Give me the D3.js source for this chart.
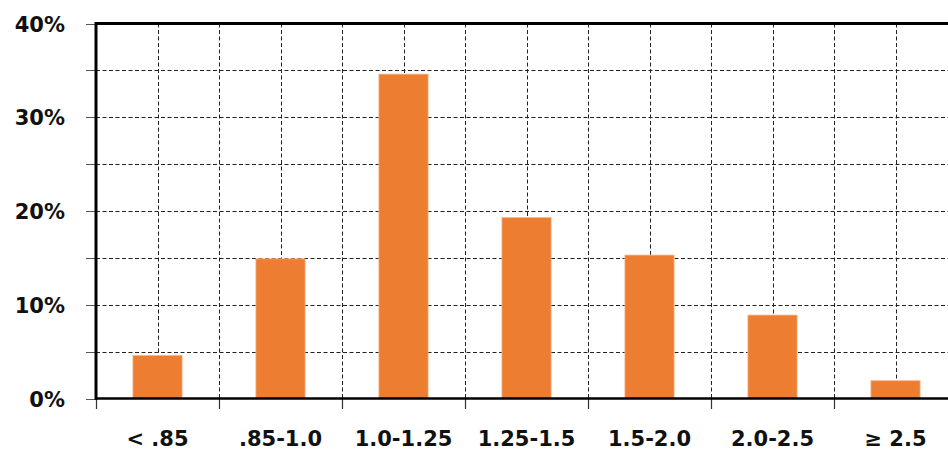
<!DOCTYPE html>
<html><head><meta charset="utf-8">
<script src="https://cdn.jsdelivr.net/npm/d3@7"></script>
<style>
html,body{margin:0;padding:0;background:#fff;overflow:hidden;}
text{font-family:"DejaVu Sans",sans-serif;font-weight:bold;fill:#111;}
</style></head>
<body><svg id="c" width="948" height="451"></svg>
<script>
const categories = ["< .85", ".85-1.0", "1.0-1.25", "1.25-1.5", "1.5-2.0", "2.0-2.5", "\u2265 2.5"];
const values = [0.046, 0.149, 0.346, 0.193, 0.153, 0.089, 0.019];
const yTickValues = [0, 0.1, 0.2, 0.3, 0.4];
const yGridValues = [0.05, 0.1, 0.15, 0.2, 0.25, 0.3, 0.35];

(function () {
const svg = d3.select("#c");
const pL = 96, pR = 957, pT = 23.5, pB = 398.5;
const x = d3.scaleBand().domain(categories).range([pL, pR]).padding(0);
const y = d3.scaleLinear().domain([0, 0.4]).range([pB, pT]);
const bw = x.bandwidth();

// horizontal gridlines
svg.append("g").selectAll("line").data(yGridValues).join("line")
  .attr("x1", pL).attr("x2", pR)
  .attr("y1", d => Math.round(y(d)) + 0.5).attr("y2", d => Math.round(y(d)) + 0.5)
  .attr("stroke", "#222").attr("stroke-width", 1).attr("stroke-dasharray", "4,2.5");

// vertical gridlines at centres and boundaries
const vx = [];
categories.forEach((c, i) => { vx.push(x(c) + bw / 2); if (i > 0) vx.push(x(c)); });
svg.append("g").selectAll("line").data(vx).join("line")
  .attr("x1", d => Math.round(d) + 0.5).attr("x2", d => Math.round(d) + 0.5)
  .attr("y1", pT).attr("y2", pB)
  .attr("stroke", "#222").attr("stroke-width", 1).attr("stroke-dasharray", "4,2.5");

// y minor ticks
const yTickAll = d3.range(0, 0.401, 0.05);
svg.append("g").selectAll("line").data(yTickAll).join("line")
  .attr("x1", 86).attr("x2", pL)
  .attr("y1", d => Math.round(y(d)) + 0.5).attr("y2", d => Math.round(y(d)) + 0.5)
  .attr("stroke", "#555").attr("stroke-width", 1);

// bars
svg.append("g").selectAll("rect").data(values).join("rect")
  .attr("x", (d, i) => x(categories[i]) + bw * 0.3)
  .attr("width", bw * 0.4)
  .attr("y", d => y(d))
  .attr("height", d => pB - y(d))
  .attr("fill", "#ED7D31")
  .attr("stroke", "#F6B98E").attr("stroke-width", 0.8);

// x ticks at boundaries
const bx = categories.map(c => x(c));
svg.append("g").selectAll("line").data(bx).join("line")
  .attr("x1", d => Math.round(d) + 0.5).attr("x2", d => Math.round(d) + 0.5)
  .attr("y1", pB).attr("y2", 409)
  .attr("stroke", "#333").attr("stroke-width", 1.2);

// axes frame
svg.append("line").attr("x1", pL).attr("x2", pR).attr("y1", pT).attr("y2", pT)
  .attr("stroke", "#000").attr("stroke-width", 3);
svg.append("line").attr("x1", pL).attr("x2", pR).attr("y1", pB).attr("y2", pB)
  .attr("stroke", "#000").attr("stroke-width", 2.6);
svg.append("line").attr("x1", pL).attr("x2", pL).attr("y1", pT - 1.5).attr("y2", pB + 1.3)
  .attr("stroke", "#000").attr("stroke-width", 3);

// y labels
svg.append("g").selectAll("text").data(yTickValues).join("text")
  .attr("x", 65).attr("y", d => y(d) + 8)
  .attr("text-anchor", "end").attr("font-size", 21)
  .text(d => d3.format(".0%")(d));

// x labels
svg.append("g").selectAll("text").data(categories).join("text")
  .attr("x", d => x(d) + bw / 2).attr("y", 446)
  .attr("text-anchor", "middle").attr("font-size", 21)
  .text(d => d);
})();
</script></body></html>
